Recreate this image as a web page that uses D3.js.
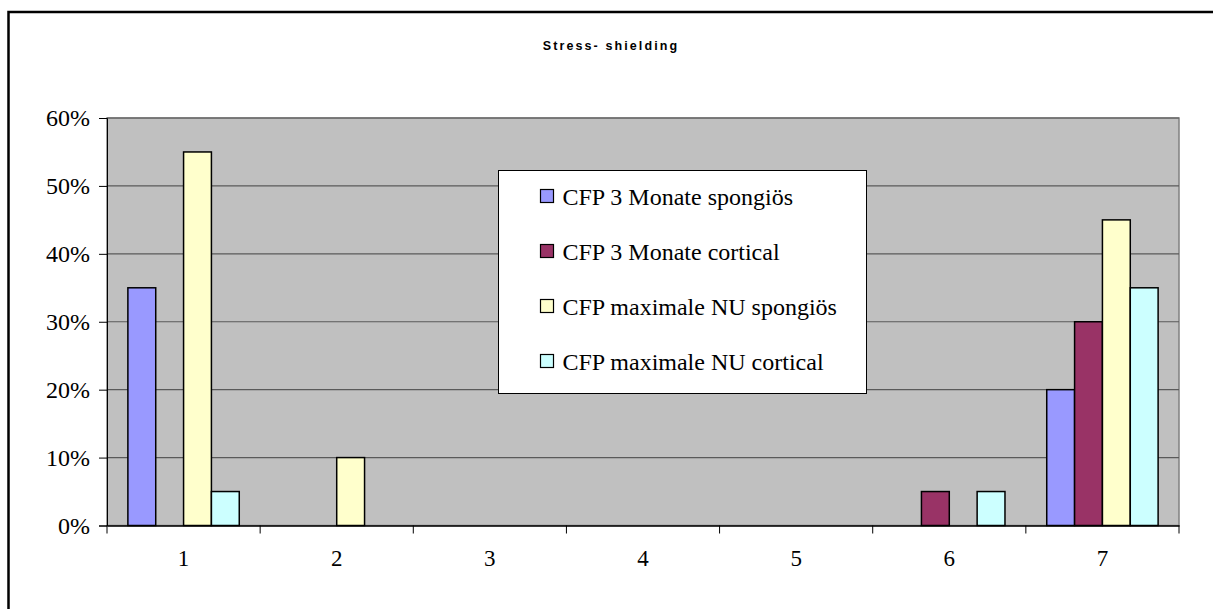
<!DOCTYPE html>
<html>
<head>
<meta charset="utf-8">
<script src="https://cdn.jsdelivr.net/npm/d3@7"></script>
<style>
    body { margin: 0; background: #fff; }
    svg { display: block; }
</style>
</head>
<body>
<script>
"use strict";
(function () {
    // Data
    const categories = ["1", "2", "3", "4", "5", "6", "7"]
    const seriesNames = [
        "CFP 3 Monate spongiös",
        "CFP 3 Monate cortical",
        "CFP maximale NU spongiös",
        "CFP maximale NU cortical"
    ]
    const spongios3 = [0.35, 0, 0, 0, 0, 0, 0.20]
    const cortical3 = [0, 0, 0, 0, 0, 0.05, 0.30]
    const spongiosMax = [0.55, 0.10, 0, 0, 0, 0, 0.45]
    const corticalMax = [0.05, 0, 0, 0, 0, 0.05, 0.35]
    const yTicks = [0, 0.1, 0.2, 0.3, 0.4, 0.5, 0.6]
    const title = "Stress- shielding"

    const colors = ["#9999FF", "#993366", "#FFFFCC", "#CCFFFF"]
    const allSeries = [spongios3, cortical3, spongiosMax, corticalMax]

    // Dimensions
    const measurements = {
        width: 1213,
        height: 609,
        left: 107,
        right: 1179,
        top: 118,
        bottom: 525.5
    }

    const serif = "'Liberation Serif', 'Times New Roman', serif"

    const svg = d3.select("body").append("svg")
        .attr("width", measurements.width)
        .attr("height", measurements.height)

    // Outer chart border
    svg.append("rect")
        .attr("x", 8.5)
        .attr("y", 12)
        .attr("width", 1230)
        .attr("height", 640)
        .attr("fill", "#fff")
        .attr("stroke", "#000")
        .attr("stroke-width", 2.5)

    // Title
    svg.append("text")
        .attr("x", 611)
        .attr("y", 50)
        .attr("text-anchor", "middle")
        .style("font-family", "'Liberation Sans', Arial, sans-serif")
        .style("font-size", "12.5px")
        .style("font-weight", "bold")
        .style("letter-spacing", "2.1px")
        .text(title)

    // Scales
    const scaleX = d3.scaleBand()
        .domain(categories)
        .range([measurements.left, measurements.right])
        .paddingInner(0)

    const gapRatio = 1.5
    const scaleSeries = d3.scaleBand()
        .domain(d3.range(allSeries.length))
        .range([0, scaleX.bandwidth() * 4 / (4 + gapRatio)])

    const scaleY = d3.scaleLinear()
        .domain([0, 0.6])
        .range([measurements.bottom, measurements.top])

    // Plot area
    svg.append("rect")
        .attr("x", measurements.left)
        .attr("y", measurements.top)
        .attr("width", measurements.right - measurements.left)
        .attr("height", measurements.bottom - measurements.top)
        .attr("fill", "#C0C0C0")
        .attr("stroke", "#808080")
        .attr("stroke-width", 1.5)

    // Gridlines
    svg.append("g")
        .selectAll("line")
        .data(yTicks.slice(1))
        .enter()
        .append("line")
        .attr("x1", measurements.left)
        .attr("x2", measurements.right)
        .attr("y1", d => scaleY(d))
        .attr("y2", d => scaleY(d))
        .attr("stroke", "#5a5a5a")
        .attr("stroke-width", 1.2)

    // Bars (zero values are not drawn)
    const offset = scaleX.bandwidth() * (gapRatio / 2) / (4 + gapRatio)
    allSeries.forEach(function (values, s) {
        const rows = values
            .map((v, i) => ({ category: categories[i], value: v }))
            .filter(d => d.value > 0)

        svg.append("g")
            .selectAll("rect")
            .data(rows)
            .enter()
            .append("rect")
            .attr("x", d => scaleX(d.category) + offset + scaleSeries(s))
            .attr("y", d => scaleY(d.value))
            .attr("width", scaleSeries.bandwidth())
            .attr("height", d => scaleY(0) - scaleY(d.value))
            .attr("fill", colors[s])
            .attr("stroke", "#000")
            .attr("stroke-width", 1.5)
    })

    // Y axis
    const yAxis = d3.axisLeft(scaleY)
        .tickValues(yTicks)
        .tickFormat(d3.format(".0%"))
        .tickSize(8)
        .tickPadding(9)

    const gy = svg.append("g")
        .attr("transform", "translate(" + measurements.left + ",0)")
        .call(yAxis)
    gy.select(".domain").attr("stroke", "#000").attr("stroke-width", 1)
    gy.selectAll(".tick line").attr("stroke", "#000")
    gy.selectAll("text")
        .style("font-family", serif)
        .style("font-size", "24px")
        .attr("fill", "#000")

    // X axis
    const xAxis = d3.axisBottom(scaleX)
        .tickSize(0)
        .tickPadding(24)

    const gx = svg.append("g")
        .attr("transform", "translate(0," + measurements.bottom + ")")
        .call(xAxis)
    gx.select(".domain").attr("stroke", "#000").attr("stroke-width", 1.5)
    gx.selectAll("text")
        .style("font-family", serif)
        .style("font-size", "23px")
        .attr("fill", "#000")

    // Category boundary ticks
    gx.selectAll(".boundary")
        .data(categories.concat(["end"]))
        .enter()
        .append("line")
        .attr("x1", (d, i) => measurements.left + i * scaleX.step())
        .attr("x2", (d, i) => measurements.left + i * scaleX.step())
        .attr("y1", 0)
        .attr("y2", 8)
        .attr("stroke", "#000")

    // Legend
    const legend = svg.append("g")
        .attr("transform", "translate(498.5,170.5)")
    legend.append("rect")
        .attr("width", 368)
        .attr("height", 223)
        .attr("fill", "#fff")
        .attr("stroke", "#000")
        .attr("stroke-width", 1)

    const item = legend.selectAll(".legend")
        .data(seriesNames)
        .enter()
        .append("g")
        .attr("class", "legend")
        .attr("transform", (d, i) => "translate(0," + (26 + i * 55) + ")")

    item.append("rect")
        .attr("x", 42)
        .attr("y", -7)
        .attr("width", 13)
        .attr("height", 13)
        .attr("fill", (d, i) => colors[i])
        .attr("stroke", "#000")
        .attr("stroke-width", 1.2)

    item.append("text")
        .attr("x", 64)
        .attr("y", 0)
        .attr("dy", "0.35em")
        .style("font-family", serif)
        .style("font-size", "24px")
        .text(d => d)
})()
</script>
</body>
</html>
